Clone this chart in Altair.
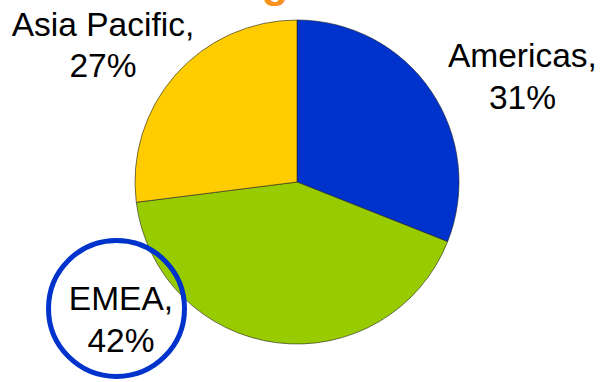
import math
import altair as alt
import pandas as pd

# ---- data ----
categories = ["Americas", "EMEA", "Asia Pacific"]
shares = [31, 42, 27]
slice_colors = ["#0033CC", "#99CC00", "#FFCC00"]
title_text = ["Revenue Share Across Regions"]
highlight = ["EMEA"]

df = pd.DataFrame({
    "category": categories,
    "value": shares,
    "order": list(range(len(categories))),
    "label": [f"{c},\n{v}%" for c, v in zip(categories, shares)],
})

theta_scale = alt.Scale(domain=[0, 100], range=[0, 2 * math.pi])
base = alt.Chart(df)

pie = base.mark_arc(outerRadius=162, stroke="#222222", strokeWidth=0.6).encode(
    theta=alt.Theta("value:Q", stack=True, scale=theta_scale),
    color=alt.Color("category:N",
                    scale=alt.Scale(domain=categories, range=slice_colors),
                    legend=None),
    order=alt.Order("order:Q"),
)

label_base = base.transform_window(
    cum="sum(value)", sort=[alt.SortField("order")], frame=[None, 0]
).transform_calculate(mid="datum.cum - datum.value / 2")


def label_layer(cat, dx, dy, lh):
    return label_base.transform_filter(alt.datum.category == cat).mark_text(
        font="Liberation Sans", fontSize=33.5, color="#000000",
        align="center", baseline="alphabetic", lineBreak="\n",
        lineHeight=lh, dx=dx, dy=dy,
    ).encode(
        theta=alt.Theta("mid:Q", stack=None, scale=theta_scale),
        radius=alt.value(200),
        text="label:N",
    )


labels = [
    label_layer("Americas", 60, -2.6, 42),
    label_layer("Asia Pacific", -44, -13.7, 41),
    label_layer("EMEA", -151, -70.4, 42),
]

ring = alt.Chart(pd.DataFrame({"category": highlight})).mark_point(
    shape="circle", size=136 * 136, filled=False, stroke="#0033CC",
    strokeWidth=5, opacity=1,
).encode(x=alt.value(116.5), y=alt.value(308.5))

title = alt.Chart(pd.DataFrame({"t": title_text})).mark_text(
    font="Liberation Sans", fontWeight="bold", fontSize=44, color="#F7931E",
    align="right", baseline="alphabetic",
).encode(text="t:N", x=alt.value(379), y=alt.value(-3))

chart = alt.layer(pie, ring, *labels, title).properties(
    width=594, height=364,
    padding={"left": 0, "top": 0, "right": 7, "bottom": 18},
    autosize=alt.AutoSizeParams(type="none"),
).configure_view(stroke="transparent")

chart.save("out.html", embed_options={"renderer": "svg", "actions": False})
